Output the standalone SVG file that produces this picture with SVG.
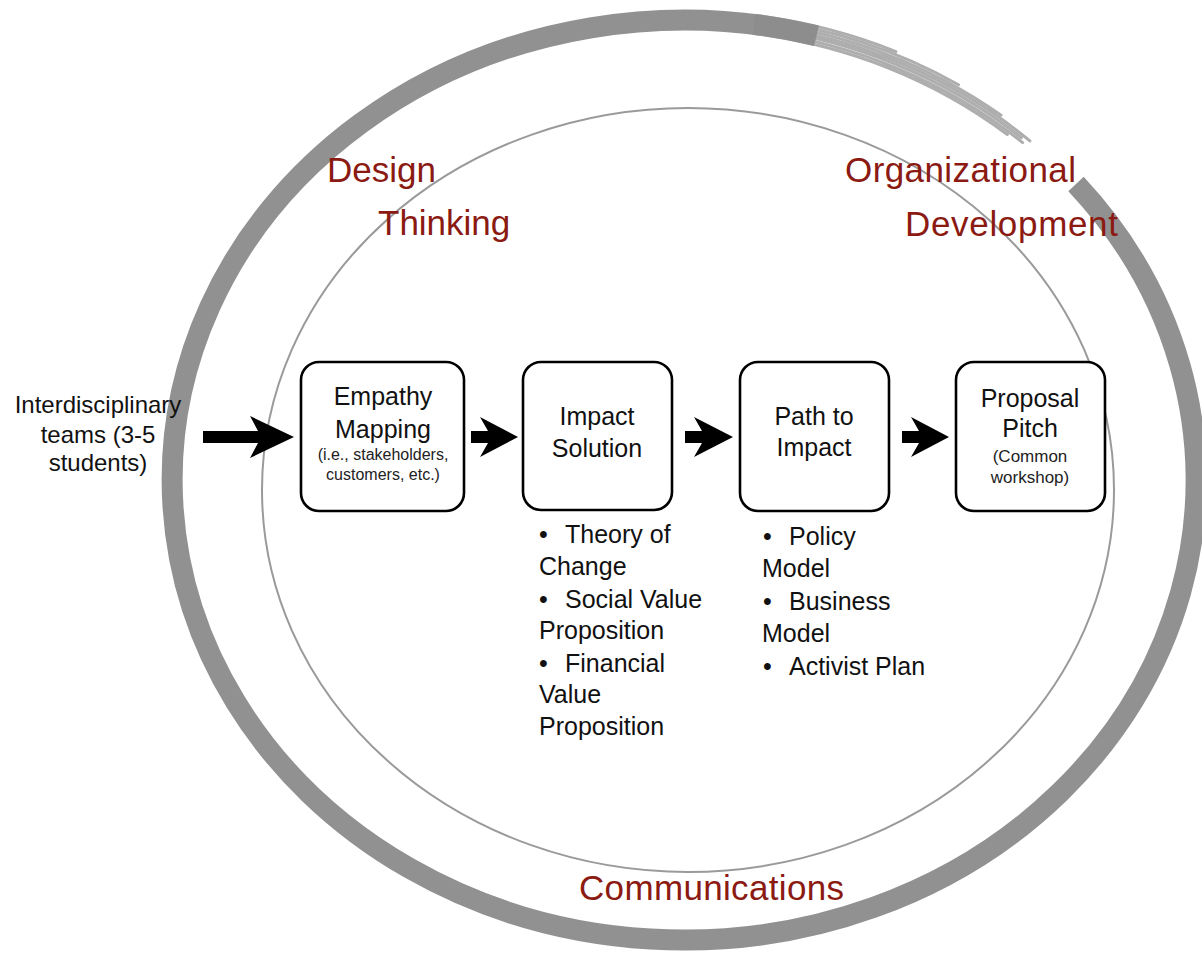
<svg xmlns="http://www.w3.org/2000/svg" width="1202" height="953" viewBox="0 0 1202 953">
<style>
.ring{fill:none;stroke:#919191}
.hatch{fill:none;stroke:#8c8c8c;stroke-width:3;opacity:0.7;stroke-linecap:round}
.inner{fill:none;stroke:#9a9a9a;stroke-width:2}
.head{font-family:"Liberation Sans",Arial,sans-serif;font-size:35px;fill:#8b1a12}
.box{fill:#fff;stroke:#000;stroke-width:2.6}
.lbl{font-family:"Liberation Sans",Arial,sans-serif;font-size:25px;fill:#111;text-anchor:middle}
.sub{font-family:"Liberation Sans",Arial,sans-serif;font-size:16px;fill:#222;text-anchor:middle}
.side{font-family:"Liberation Sans",Arial,sans-serif;font-size:24px;fill:#111;text-anchor:middle}
.list{font-family:"Liberation Sans",Arial,sans-serif;font-size:25px;fill:#111}
.arrow{fill:#000}
</style>
<rect width="1202" height="953" fill="#fff"/>
<g id="rings">
  <path class="ring" stroke-width="21" d="M 1076 184 A 512 460 0 1 1 816.5 35.7"/>
  <path class="hatch" d="M 754.0 33.4 A 503 451 0 0 1 1007.3 134.5"/>
  <path class="hatch" d="M 754.4 30.4 A 506 454 0 0 1 1022.6 142.6"/>
  <path class="hatch" d="M 754.9 27.4 A 509 457 0 0 1 1021.3 137.7"/>
  <path class="hatch" d="M 755.3 24.5 A 512 460 0 0 1 1029.9 140.8"/>
  <path class="hatch" d="M 755.7 21.5 A 515 463 0 0 1 1001.1 115.2"/>
  <path class="hatch" d="M 756.1 18.5 A 518 466 0 0 1 958.5 84.8"/>
  <path class="hatch" d="M 756.5 15.6 A 521 469 0 0 1 895.9 51.6"/>
  <ellipse class="inner" cx="688" cy="490" rx="426" ry="382"/>
</g>
<g id="labels">
  <text class="head" x="327" y="182">Design</text>
  <text class="head" x="378" y="235">Thinking</text>
  <text class="head" x="845" y="182" textLength="231">Organizational</text>
  <text class="head" x="905" y="236" textLength="213">Development</text>
  <text class="head" x="579" y="900" textLength="265">Communications</text>
</g>
<g id="input">
  <text class="side" x="98" y="413">Interdisciplinary</text>
  <text class="side" x="98" y="443">teams (3-5</text>
  <text class="side" x="98" y="471">students)</text>
</g>
<g id="connectors">
  <path class="arrow" d="M 203 431 L 258 431 L 250 416 L 294 437 L 250 458 L 258 443 L 203 443 Z"/>
  <path class="arrow" d="M 471 431 L 488 431 L 480 417 L 518 437 L 480 457 L 488 443 L 471 443 Z"/>
  <path class="arrow" d="M 685 431 L 702 431 L 694 417 L 733 437 L 694 457 L 702 443 L 685 443 Z"/>
  <path class="arrow" d="M 902 431 L 919 431 L 911 417 L 949 437 L 911 457 L 919 443 L 902 443 Z"/>
</g>
<g id="node-empathy">
  <rect class="box" x="301" y="362" width="163" height="149" rx="18"/>
  <text class="lbl" x="383" y="405">Empathy</text>
  <text class="lbl" x="383" y="438">Mapping</text>
  <text class="sub" x="383" y="460">(i.e., stakeholders,</text>
  <text class="sub" x="383" y="480">customers, etc.)</text>
</g>
<g id="node-impact-solution">
  <rect class="box" x="523" y="362" width="149" height="148" rx="18"/>
  <text class="lbl" x="597" y="425">Impact</text>
  <text class="lbl" x="597" y="457">Solution</text>
</g>
<g id="node-path">
  <rect class="box" x="740" y="362" width="149" height="149" rx="18"/>
  <text class="lbl" x="814" y="425">Path to</text>
  <text class="lbl" x="814" y="456">Impact</text>
</g>
<g id="node-proposal">
  <rect class="box" x="956" y="362" width="149" height="149" rx="18"/>
  <text class="lbl" x="1030" y="407">Proposal</text>
  <text class="lbl" x="1030" y="437">Pitch</text>
  <text class="sub" x="1030" y="462" style="font-size:17px">(Common</text>
  <text class="sub" x="1030" y="483" style="font-size:17px">workshop)</text>
</g>
<g id="list-solution">
  <text class="list" x="539" y="543">•<tspan x="565">Theory of</tspan></text>
  <text class="list" x="539" y="575">Change</text>
  <text class="list" x="539" y="608">•<tspan x="565">Social Value</tspan></text>
  <text class="list" x="539" y="639">Proposition</text>
  <text class="list" x="539" y="672">•<tspan x="565">Financial</tspan></text>
  <text class="list" x="539" y="703">Value</text>
  <text class="list" x="539" y="735">Proposition</text>
</g>
<g id="list-path">
  <text class="list" x="763" y="545">•<tspan x="789">Policy</tspan></text>
  <text class="list" x="762" y="577">Model</text>
  <text class="list" x="763" y="610">•<tspan x="789">Business</tspan></text>
  <text class="list" x="762" y="642">Model</text>
  <text class="list" x="763" y="675">•<tspan x="789">Activist Plan</tspan></text>
</g>
</svg>
